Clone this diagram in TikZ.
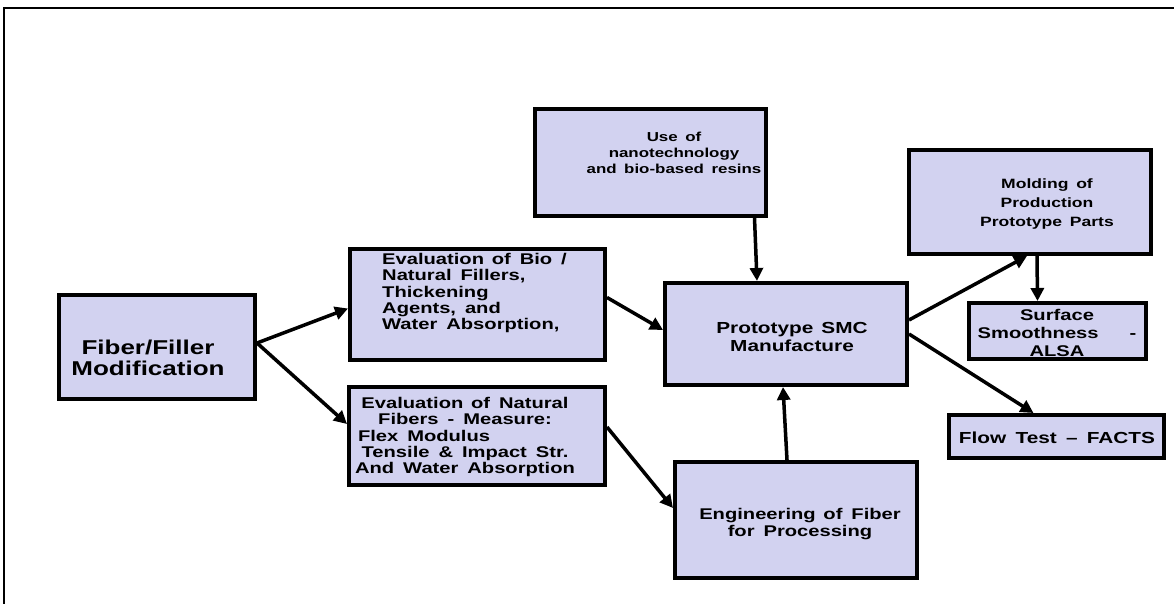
\documentclass[tikz,border=0pt]{standalone}
\usepackage{fontspec}
\newfontfamily\boxfont{Liberation Sans}[FakeStretch=1.3,WordSpace=1.6]
\usetikzlibrary{arrows.meta}
\usetikzlibrary{shadows}
\definecolor{boxfill}{RGB}{210,210,240}
\tikzset{
    blk/.style={draw=black,line width=4pt,fill=boxfill,inner sep=0pt,
        drop shadow={shadow xshift=1.5pt,shadow yshift=-1.5pt,fill=black,opacity=1}},
    txt/.style={font=\boxfont\bfseries\fontsize{15.5}{16.4}\selectfont,align=center,inner sep=0pt},
    arr/.style={line width=3.5pt,-{Triangle[length=13pt,width=13pt]}},
}
\begin{document}
\begin{tikzpicture}[x=1pt,y=-1pt]
\useasboundingbox (0,0) rectangle (1174,604);
\draw[line width=2pt] (4,604) -- (4,8) -- (1174,8);
% boxes
\node[blk,minimum width=196pt,minimum height=104pt] (fiber) at (157,347) {};
\node[blk,minimum width=255pt,minimum height=111pt] (bio) at (477.5,304.5) {};
\node[blk,minimum width=256pt,minimum height=98pt] (natural) at (477,436) {};
\node[blk,minimum width=231pt,minimum height=107pt] (nano) at (650.5,162.5) {};
\node[blk,minimum width=242pt,minimum height=102pt] (proto) at (786,334) {};
\node[blk,minimum width=242pt,minimum height=116pt] (eng) at (796,520) {};
\node[blk,minimum width=242pt,minimum height=104pt] (molding) at (1030,202) {};
\node[blk,minimum width=177pt,minimum height=56pt] (surface) at (1057.5,331) {};
\node[blk,minimum width=215pt,minimum height=43pt] (flow) at (1056.5,436.5) {};
% texts
\node[txt,font=\boxfont\bfseries\fontsize{20}{21}\selectfont] (fiber-t) at (148,358) {Fiber/Filler\\Modification};
\node[txt,align=left,anchor=west] (bio-t) at (382,293) {Evaluation\enspace of Bio /\\Natural Fillers,\\Thickening\\Agents, and\\Water Absorption,};
\node[txt] (natural-t) at (465,437) {Evaluation\enspace of Natural\\Fibers - Measure:\\\makebox[214pt][l]{Flex Modulus}\\Tensile \& Impact Str.\\And Water Absorption};
\node[txt,font=\boxfont\bfseries\fontsize{13}{16}\selectfont] (nano-t) at (674,153) {Use of\\nanotechnology\\and bio-based resins};
\node[txt,font=\boxfont\bfseries\fontsize{16}{18}\selectfont] (proto-t) at (792,337) {Prototype\enspace SMC\\Manufacture};
\node[txt] (eng-t) at (800,524) {Engineering\enspace of Fiber\\for Processing};
\node[txt,font=\boxfont\bfseries\fontsize{13.5}{19}\selectfont] (molding-t) at (1047,204) {Molding of\\Production\\Prototype Parts};
\node[txt,font=\boxfont\bfseries\fontsize{15.5}{18}\selectfont] (surface-t) at (1057,333) {Surface\\Smoothness\qquad -\\ALSA};
\node[txt,font=\boxfont\bfseries\fontsize{16}{18}\selectfont] (flow-t) at (1057,438) {Flow Test \textendash\ FACTS};
% arrows
\draw[arr] ([yshift=4pt]fiber.east) -- ([yshift=-4pt]bio.west);
\draw[arr] ([yshift=4pt]fiber.east) -- ([yshift=12pt]natural.west);
\draw[arr] ([yshift=7pt]bio.east) -- ([yshift=4pt]proto.west);
\draw[arr] ([yshift=9pt]natural.east) -- ([yshift=12pt]eng.west);
\draw[arr] ([xshift=104pt]nano.south) -- ([xshift=-29pt]proto.north);
\draw[arr] ([xshift=-9pt]eng.north) -- ([xshift=-3pt]proto.south);
\draw[arr] ([yshift=14pt]proto.east) -- ([xshift=-3pt]molding.south);
\draw[arr] (proto.east) -- ([xshift=-23pt]flow.north);
\draw[arr] ([xshift=7pt]molding.south) -- ([xshift=-20pt]surface.north);
\end{tikzpicture}
\end{document}
